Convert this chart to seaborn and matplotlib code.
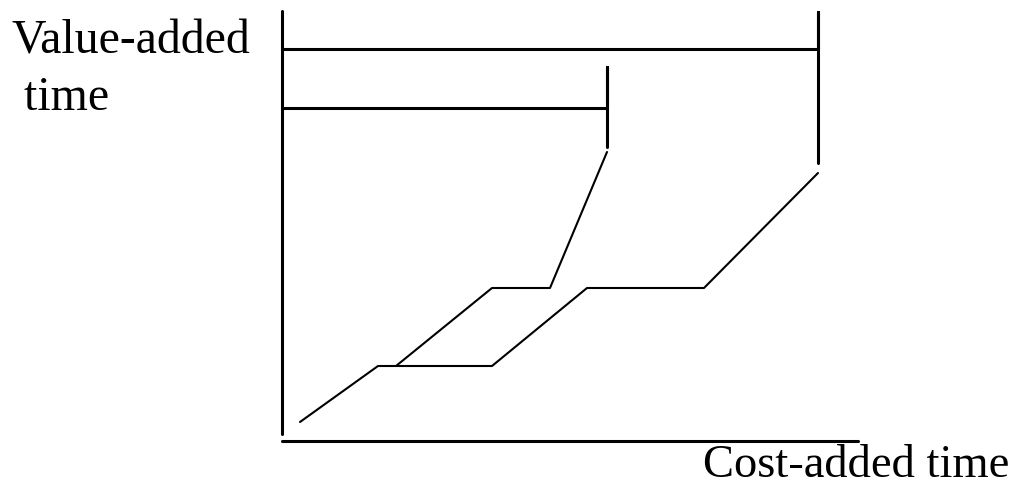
import matplotlib
matplotlib.use("Agg")
import matplotlib.pyplot as plt
import seaborn as sns
import pandas as pd

# Conceptual diagram: value-added time vs cost-added time (arbitrary units)
line_a_x = [18, 96, 210, 305, 422, 536]
line_a_y = [19, 75, 75, 153, 153, 268]
line_b_x = [114, 210, 268, 325]
line_b_y = [75, 153, 153, 289]

bracket_a_x = [0, 536, 536, 536]
bracket_a_y = [392, 392, 429, 278]
bracket_b_x = [0, 325, 325, 325]
bracket_b_y = [333, 333, 374, 294]

yaxis_x = [0, 0]
yaxis_y = [7, 430]
xaxis_x = [0, 576]
xaxis_y = [0, 0]

ylabel_lines = ["Value-added", " time"]
xlabel_text = "Cost-added time"

sns.set_style("white")
plt.rcParams["font.family"] = ["Liberation Serif", "DejaVu Serif"]

fig = plt.figure(figsize=(10.11, 5.0), dpi=100)
ax = fig.add_axes([0, 0, 1, 1])

thick = 2.2
thin = 1.5
for xs, ys, lw in [
    (yaxis_x, yaxis_y, thick),
    (xaxis_x, xaxis_y, thick),
    (bracket_a_x, bracket_a_y, thick),
    (bracket_b_x, bracket_b_y, thick),
    (line_a_x, line_a_y, thin),
    (line_b_x, line_b_y, thin),
]:
    df = pd.DataFrame({"x": xs, "y": ys})
    sns.lineplot(data=df, x="x", y="y", sort=False, estimator=None,
                 color="black", linewidth=lw, ax=ax)

ax.set_xlim(-282, 1011 - 282)
ax.set_ylim(441 - 500, 441)
ax.axis("off")

ax.text(12 - 282, 441 - 53, ylabel_lines[0], fontsize=34.5, va="baseline",
        ha="left", color="black")
ax.text(12 - 282, 441 - 110, ylabel_lines[1], fontsize=34.5, va="baseline",
        ha="left", color="black")
ax.text(703 - 282, 441 - 477, xlabel_text, fontsize=33.5, va="baseline",
        ha="left", color="black")

fig.savefig("out.png", dpi=100)
